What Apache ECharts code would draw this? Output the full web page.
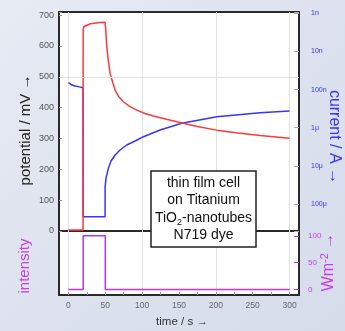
<!DOCTYPE html>
<html>
<head>
<meta charset="utf-8">
<script src="https://cdn.jsdelivr.net/npm/echarts@6/dist/echarts.min.js"></script>
<style>
  html, body { margin: 0; padding: 0; background: #dfe4ef; }
  #chart { width: 345px; height: 331px; }
</style>
</head>
<body>
<div id="chart"></div>
<script>
// Photovoltage / photocurrent transient of a dye cell under a 30 s light pulse

// potential (mV) against time (s)
const potentialTime = [0, 19.8, 20, 21, 23, 30, 40, 49.5, 50.3, 51, 52, 54, 56.5, 60, 63.3, 68, 74.5, 83, 92.7, 104, 115, 133, 154, 175, 201, 230, 260, 300];
const potentialMV   = [3, 3, 655, 663, 668, 672, 675, 677, 660, 635, 598, 555, 511, 482, 457, 436, 419, 404, 392, 381, 373, 362, 350, 339, 327, 318, 310, 301];

// current (A) against time (s)
const currentTime = [0, 5, 9, 15, 19.8, 20, 35, 49.7, 49.8, 51, 54.2, 57.8, 63.3, 70, 79.1, 90.4, 101.7, 124.3, 153.8, 201.3, 260, 300];
const currentA    = [6.6e-8, 7.6e-8, 8.05e-8, 8.5e-8, 8.9e-8, 2.15e-4, 2.15e-4, 2.15e-4, 3.5e-5, 2.08e-5, 1.16e-5, 7.45e-6, 5.2e-6, 3.84e-6, 2.84e-6, 2.23e-6, 1.72e-6, 1.15e-6, 7.66e-7, 5.14e-7, 4.04e-7, 3.65e-7];

// light intensity (W m^-2) against time (s)
const lightTime = [0, 20, 20, 50, 50, 300];
const lightWm2  = [0, 0, 100, 100, 0, 0];

// axis ticks
const timeLabelTicks = [0, 50, 100, 150, 200, 250, 300];
const timeMinorTicks = [0, 25, 50, 75, 100, 125, 150, 175, 200, 225, 250, 275, 300];
const timeGridTicks  = [0, 100, 200, 300];
const currentTickValues = [1e-9, 1e-8, 1e-7, 1e-6, 1e-5, 1e-4];
const currentTickLabels = ['1n', '10n', '100n', '1μ', '10μ', '100μ'];
const lightTicks = [0, 50, 100];

// annotation text
const noteLines = ['thin film cell', 'on Titanium', 'TiO{s|2}-nanotubes', 'N719 dye'];

const zip = (xs, ys) => xs.map((x, i) => [x, ys[i]]);

const FONT = '"Liberation Sans", Arial, sans-serif';
const RED = '#ff3838';
const BLUE = '#3434ff';
const PURPLE = '#b836e6';
const PURPLE_TEXT = '#c43ee6';

const T_MIN = -12.8, T_MAX = 312.8;

const chart = echarts.init(document.getElementById('chart'), null, { renderer: 'canvas' });

const frame = { show: true, backgroundColor: '#ffffff', borderColor: '#2a2a2a', borderWidth: 2 };
const noLine = { show: false, onZero: false };

const hiddenX = (grid, ticks) => ({
  type: 'value', gridIndex: grid, min: T_MIN, max: T_MAX,
  axisLine: noLine, axisLabel: { show: false },
  axisTick: { show: false, customValues: ticks },
  splitLine: { show: true, lineStyle: { color: '#e2e2e2', width: 1 } }
});

chart.setOption({
  animation: false,
  backgroundColor: new echarts.graphic.LinearGradient(0, 0, 1, 1, [
    { offset: 0, color: '#e7ebf4' },
    { offset: 0.5, color: '#dde2ee' },
    { offset: 1, color: '#d6dcea' }
  ]),
  textStyle: { fontFamily: FONT },
  grid: [
    Object.assign({ left: 59, top: 12, width: 240, height: 219 }, frame),
    Object.assign({ left: 59, top: 231, width: 240, height: 64 }, frame)
  ],
  xAxis: [
    hiddenX(0, timeGridTicks),
    {
      type: 'value', gridIndex: 1, min: T_MIN, max: T_MAX, position: 'bottom',
      axisLine: noLine,
      axisTick: { show: true, inside: true, length: 3, customValues: timeMinorTicks,
                  lineStyle: { color: '#999', width: 1 } },
      axisLabel: { show: true, customValues: timeLabelTicks, margin: 6,
                   color: '#666', fontSize: 8.5, fontFamily: FONT },
      splitLine: { show: false }
    },
    hiddenX(1, timeGridTicks)
  ],
  yAxis: [
    {
      type: 'value', gridIndex: 0, position: 'left', min: 0, max: 710, interval: 100,
      axisLine: noLine,
      axisTick: { show: true, inside: true, length: 3, lineStyle: { color: '#999' } },
      axisLabel: { color: '#555', fontSize: 9, margin: 5, fontFamily: FONT,
                   formatter: v => (v % 100 === 0 ? String(v) : '') },
      splitLine: { show: false }
    },
    {
      type: 'log', logBase: 10, gridIndex: 0, position: 'right', inverse: true,
      min: 9.25e-10, max: 5.1e-4,
      axisLine: noLine,
      axisTick: { show: true, inside: true, length: 5, lineStyle: { color: '#aaa' } },
      axisLabel: {
        color: BLUE, fontSize: 7, margin: 12, fontFamily: FONT,
        formatter: v => {
          const i = currentTickValues.findIndex(c => Math.abs(Math.log10(v) - Math.log10(c)) < 1e-6);
          return i >= 0 ? currentTickLabels[i] : '';
        }
      },
      splitLine: { show: false }
    },
    {
      type: 'value', gridIndex: 1, position: 'right', min: -10.5, max: 109,
      axisLine: noLine,
      axisTick: { show: true, inside: true, length: 5, customValues: lightTicks,
                  lineStyle: { color: PURPLE } },
      axisLabel: { customValues: lightTicks, color: PURPLE_TEXT, fontSize: 8, margin: 9, fontFamily: FONT },
      splitLine: { show: false }
    }
  ],
  series: [
    {
      name: 'current', type: 'line', xAxisIndex: 0, yAxisIndex: 1,
      data: zip(currentTime, currentA), showSymbol: false,
      lineStyle: { color: BLUE, width: 1.5 }, itemStyle: { color: BLUE }
    },
    {
      name: 'potential', type: 'line', xAxisIndex: 0, yAxisIndex: 0,
      data: zip(potentialTime, potentialMV), showSymbol: false,
      lineStyle: { color: RED, width: 1.5 }, itemStyle: { color: RED },
      markLine: {
        silent: true, symbol: ['none', 'none'], label: { show: false },
        lineStyle: { color: '#e2e2e2', width: 1, type: 'solid' },
        data: [{ yAxis: 500 }]
      }
    },
    {
      name: 'intensity', type: 'line', xAxisIndex: 1, yAxisIndex: 2,
      data: zip(lightTime, lightWm2), showSymbol: false,
      lineStyle: { color: PURPLE, width: 1.5 }, itemStyle: { color: PURPLE }
    }
  ],
  graphic: [
    { type: 'text', z: 100, x: 26, y: 130, rotation: Math.PI / 2,
      style: { text: 'potential / mV →', fill: '#222', font: '15px ' + FONT, align: 'center', verticalAlign: 'middle' } },
    { type: 'text', z: 100, x: 25, y: 266, rotation: Math.PI / 2,
      style: { text: 'intensity', fill: PURPLE_TEXT, font: '15px ' + FONT, align: 'center', verticalAlign: 'middle' } },
    { type: 'text', z: 100, x: 334, y: 137, rotation: -Math.PI / 2,
      style: { text: 'current / A →', fill: BLUE, font: '16px ' + FONT, align: 'center', verticalAlign: 'middle' } },
    { type: 'text', z: 100, x: 329, y: 262, rotation: Math.PI / 2,
      style: {
        text: '{a|Wm}{s|-2}{a| →}', align: 'center', verticalAlign: 'middle',
        rich: {
          a: { fill: PURPLE_TEXT, font: '16px ' + FONT, lineHeight: 20 },
          s: { fill: PURPLE_TEXT, font: '11px ' + FONT, lineHeight: 12, verticalAlign: 'top' }
        }
      } },
    { type: 'text', z: 100, x: 182, y: 322,
      style: { text: 'time / s →', fill: '#333', font: '11.5px ' + FONT, align: 'center', verticalAlign: 'middle' } },
    { type: 'rect', z: 100, shape: { x: 151, y: 171, width: 105, height: 76 },
      style: { fill: '#ffffff', stroke: '#222', lineWidth: 1.5 } },
    ...noteLines.map((line, i) => ({
      type: 'text', z: 101, x: 203.5, y: 183 + i * 17.5,
      style: {
        text: line.indexOf('{s|') >= 0 ? '{a|' + line.replace('{s|2}', '}{s|2}{a|') + '}' : line,
        fill: '#111', font: '14px ' + FONT, align: 'center', verticalAlign: 'middle',
        rich: {
          a: { fill: '#111', font: '14px ' + FONT, lineHeight: 18 },
          s: { fill: '#111', font: '9px ' + FONT, lineHeight: 11, verticalAlign: 'bottom' }
        }
      }
    }))
  ]
});
</script>
</body>
</html>
